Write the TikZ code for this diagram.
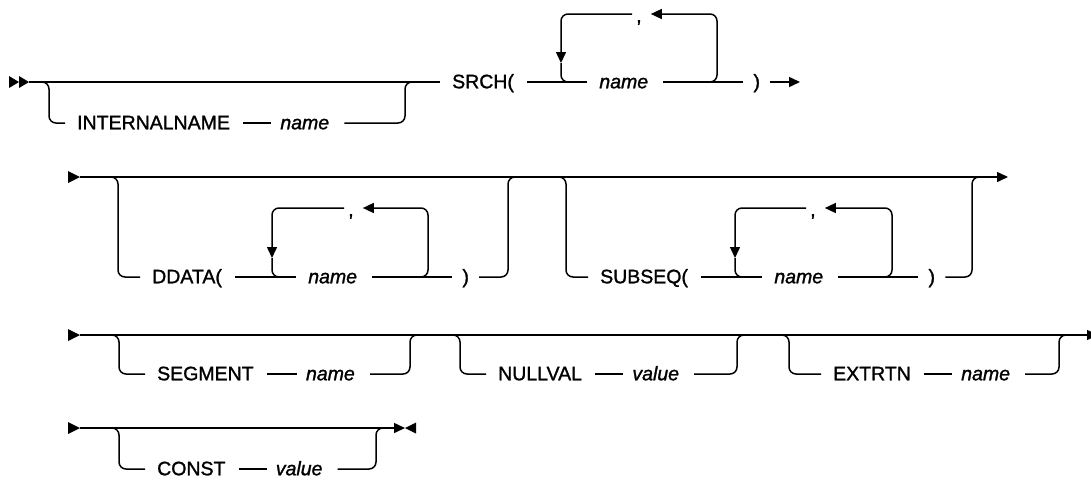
\documentclass[tikz,border=0pt]{standalone}
\usepackage{fontspec}
\setmainfont{Liberation Sans}[UprightFeatures={FakeBold=1.3},ItalicFeatures={FakeBold=1.3}]
\usetikzlibrary{arrows.meta,positioning}

\begin{document}
\begin{tikzpicture}[x=1pt,y=-1pt,
  rail/.style={line width=1.5pt,rounded corners=7pt},
  kw/.style={font=\fontsize{19.5}{22}\selectfont,inner sep=0pt,text height=12.5pt,text depth=0pt,anchor=west},
  var/.style={kw,font=\fontsize{19.5}{22}\selectfont\itshape},
  tip/.style={-{Triangle[length=11pt,width=10pt]}}]
  \useasboundingbox (0,0) rectangle (1091,485);
  % row 1
  \fill (9,76) -- (19,82) -- (9,88) -- cycle (19,76) -- (29,82) -- (19,88) -- cycle;
  \coordinate (r1a) at (29,82);
  \node[kw] (in1) at (77,123) {INTERNALNAME};
  \node[var,right=50pt of in1] (v1) {name};
  \node[kw] (srch) at (452,82) {SRCH(};
  \node[var,right=85pt of srch] (v2) {name};
  \node[kw,right=105pt of v2] (cp1) {)};
  \node[kw] (cm1) at (636,16) {,};
  \draw[rail] (r1a) -- ([xshift=-12pt]srch.west);
  \draw[rail] (40,82) -| (49,123) -- ([xshift=-12pt]in1.west);
  \draw[rail] ([xshift=13pt]in1.east) -- ([xshift=-9pt]v1.west);
  \draw[rail] ([xshift=15pt]v1.east) -| (405,82) -- (415,82);
  \draw[rail] ([xshift=13pt]srch.east) -- ([xshift=-12pt]v2.west);
  \draw[rail,tip] ([xshift=-4pt]cm1.west |- 0,14) -| (561,63);
  \draw[rail] (561,63) |- (574,82);
  \draw[rail,tip] ([xshift=15pt]v2.east) -| (717,14) -- ([xshift=9pt]cm1.east |- 0,14);
  \draw[rail] ([xshift=15pt]v2.east) -- ([xshift=-10pt]cp1.west);
  \draw[rail,tip] ([xshift=10pt]cp1.east) -- (800,82);
  % row 2
  \fill (68,171) -- (80,177) -- (68,183) -- cycle;
  \coordinate (r2a) at (80,177);
  \coordinate (r2b) at (1008,177);
  \node[kw] (dd) at (152,277) {DDATA(};
  \node[var,right=86pt of dd] (v3) {name};
  \node[kw,right=105pt of v3] (cp2) {)};
  \node[kw] (cm2) at (348,210) {,};
  \node[kw] (sub) at (600,277) {SUBSEQ(};
  \node[var,right=86pt of sub] (v4) {name};
  \node[kw,right=105pt of v4] (cp3) {)};
  \node[kw] (cm3) at (810,210) {,};
  \draw[rail,tip] (r2a) -- (r2b);
  \draw[rail] (110,177) -| (118,277) -- ([xshift=-12pt]dd.west);
  \draw[rail] ([xshift=13pt]dd.east) -- ([xshift=-12pt]v3.west);
  \draw[rail,tip] ([xshift=-4pt]cm2.west |- 0,208) -| (272,258);
  \draw[rail] (272,258) |- (285,277);
  \draw[rail,tip] ([xshift=15pt]v3.east) -| (428,208) -- ([xshift=9pt]cm2.east |- 0,208);
  \draw[rail] ([xshift=15pt]v3.east) -- ([xshift=-10pt]cp2.west);
  \draw[rail] ([xshift=10pt]cp2.east) -| (508,177) -- (518,177);
  \draw[rail] (558,177) -| (566,277) -- ([xshift=-12pt]sub.west);
  \draw[rail] ([xshift=13pt]sub.east) -- ([xshift=-12pt]v4.west);
  \draw[rail,tip] ([xshift=-4pt]cm3.west |- 0,208) -| (735,258);
  \draw[rail] (735,258) |- (748,277);
  \draw[rail,tip] ([xshift=15pt]v4.east) -| (892,208) -- ([xshift=9pt]cm3.east |- 0,208);
  \draw[rail] ([xshift=15pt]v4.east) -- ([xshift=-10pt]cp3.west);
  \draw[rail] ([xshift=10pt]cp3.east) -| (972,177) -- (982,177);
  % row 3
  \fill (68,329) -- (80,335) -- (68,341) -- cycle;
  \coordinate (r3a) at (80,335);
  \coordinate (r3b) at (1098,335);
  \node[kw] (seg) at (157,374) {SEGMENT};
  \node[var,right=52pt of seg] (v5) {name};
  \node[kw] (nul) at (498,374) {NULLVAL};
  \node[var,right=50pt of nul] (v6) {value};
  \node[kw] (ext) at (833,374) {EXTRTN};
  \node[var,right=50pt of ext] (v7) {name};
  \draw[rail,tip] (r3a) -- (r3b);
  \draw[rail] (110,335) -| (119,374) -- ([xshift=-12pt]seg.west);
  \draw[rail] ([xshift=13pt]seg.east) -- ([xshift=-9pt]v5.west);
  \draw[rail] ([xshift=15pt]v5.east) -| (410,335) -- (420,335);
  \draw[rail] (452,335) -| (460,374) -- ([xshift=-12pt]nul.west);
  \draw[rail] ([xshift=13pt]nul.east) -- ([xshift=-9pt]v6.west);
  \draw[rail] ([xshift=15pt]v6.east) -| (737,335) -- (746,335);
  \draw[rail] (780,335) -| (789,374) -- ([xshift=-12pt]ext.west);
  \draw[rail] ([xshift=13pt]ext.east) -- ([xshift=-9pt]v7.west);
  \draw[rail] ([xshift=15pt]v7.east) -| (1059,335) -- (1068,335);
  % row 4
  \fill (68,422) -- (80,428) -- (68,434) -- cycle;
  \coordinate (r4a) at (80,428);
  \coordinate (r4b) at (405,428);
  \node[kw] (cst) at (157,469) {CONST};
  \node[var,right=50pt of cst] (v8) {value};
  \draw[rail,tip] (r4a) -- (r4b);
  \fill (416,422.5) -- (r4b) -- (416,433.5) -- cycle;
  \draw[rail] (110,428) -| (119,469) -- ([xshift=-12pt]cst.west);
  \draw[rail] ([xshift=13pt]cst.east) -- ([xshift=-9pt]v8.west);
  \draw[rail] ([xshift=15pt]v8.east) -| (376,428) -- (385,428);
\end{tikzpicture}
\end{document}
